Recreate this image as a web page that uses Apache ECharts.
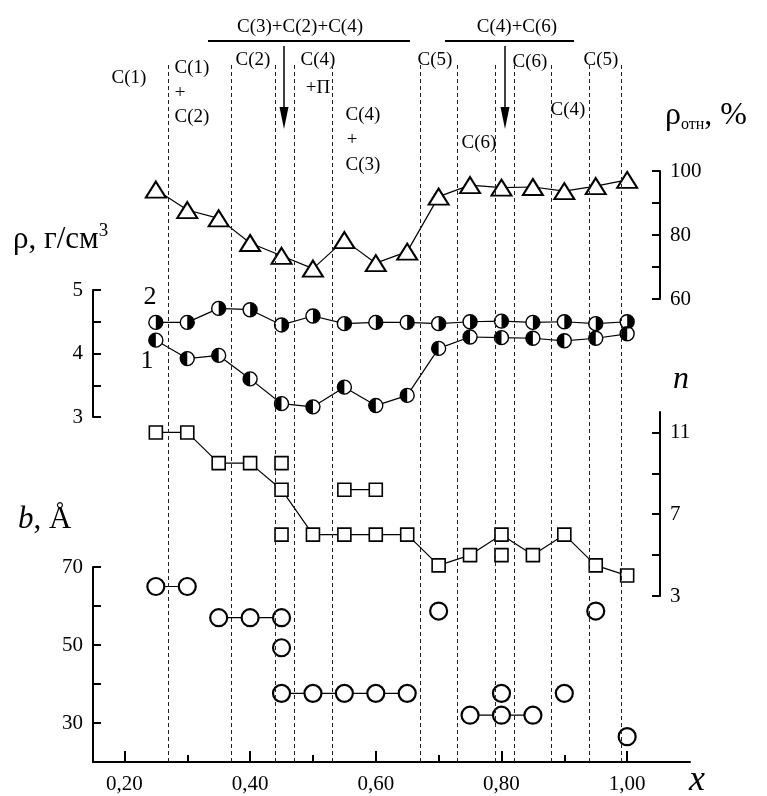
<!DOCTYPE html>
<html>
<head>
<meta charset="utf-8">
<script src="https://cdn.jsdelivr.net/npm/echarts@6/dist/echarts.min.js"></script>
<style>
html, body { margin: 0; padding: 0; background: #fff; }
#chart { width: 767px; height: 796px; }
</style>
</head>
<body>
<div id="chart"></div>
<script>
const serif = '"Liberation Serif", "DejaVu Serif", serif';

// composition x
const xs = [0.25, 0.30, 0.35, 0.40, 0.45, 0.50, 0.55, 0.60, 0.65, 0.70, 0.75, 0.80, 0.85, 0.90, 0.95, 1.00];
// relative density, %
const relDensity = [94.2, 87.8, 85.2, 77.5, 73.5, 69.5, 78.4, 71.2, 74.8, 92.0, 95.6, 94.8, 95.0, 93.7, 95.3, 97.2];
// density, g/cm3 (curve 2 upper, curve 1 lower)
const rho2 = [4.49, 4.49, 4.71, 4.69, 4.45, 4.59, 4.47, 4.49, 4.49, 4.47, 4.50, 4.51, 4.49, 4.50, 4.47, 4.50];
const rho1 = [4.21, 3.92, 3.97, 3.60, 3.21, 3.16, 3.47, 3.18, 3.34, 4.08, 4.26, 4.25, 4.24, 4.20, 4.24, 4.31];
// n
const nMain = [11, 11, 9.5, 9.5, 8.2, 6, 6, 6, 6, 4.5, 5, 6, 5, 6, 4.5, 4];
const nPair = [[0.55, 8.2], [0.60, 8.2]];
const nSingles = [[0.45, 9.5], [0.45, 6], [0.80, 5]];
// b, A
const bSegments = [
  [[0.25, 65], [0.30, 65]],
  [[0.35, 57], [0.40, 57], [0.45, 57]],
  [[0.45, 37.6], [0.50, 37.6], [0.55, 37.6], [0.60, 37.6], [0.65, 37.6]],
  [[0.75, 32], [0.80, 32], [0.85, 32]]
];
const bSingles = [[0.45, 49.3], [0.70, 58.7], [0.80, 37.6], [0.90, 37.6], [0.95, 58.7], [1.00, 26.5]];
// phase boundaries (dashed)
const phaseBounds = [0.27, 0.368, 0.44, 0.469, 0.534, 0.668, 0.734, 0.79, 0.819, 0.878, 0.937, 0.986];
// tick values
const xTicks = [0.2, 0.4, 0.6, 0.8, 1.0];
const xMinorTicks = [0.3, 0.5, 0.7, 0.9];

let chart = echarts.init(document.getElementById("chart"));

function hiddenX(gi) {
  return { type: "value", gridIndex: gi, min: 0.15, max: 1.10, show: false };
}

function yAx(gi, pos, min, max, ticks, labels, offset) {
  return {
    type: "value", gridIndex: gi, position: pos, offset: offset || 0, min: min, max: max,
    axisLine: { show: true, onZero: false, lineStyle: { color: "#000", width: 2 } },
    axisTick: { show: true, inside: true, length: 8, customValues: ticks, lineStyle: { color: "#000", width: 2 } },
    axisLabel: { show: true, customValues: labels, color: "#000", fontSize: 21, fontFamily: serif, margin: 10 },
    splitLine: { show: false }
  };
}

function txt(x, y, text, size, extra) {
  return {
    type: "text", x: x, y: y, silent: true,
    style: Object.assign({
      text: text, fontSize: size, fontFamily: serif, fill: "#000",
      align: "center", verticalAlign: "middle", textAlign: "center", textVerticalAlign: "middle"
    }, extra || {})
  };
}

const hollow = { color: "#fff", borderColor: "#000", borderWidth: 1.6, opacity: 1 };
const ring = { color: "#fff", borderColor: "#000", borderWidth: 2.2, opacity: 1 };
const thinLine = { color: "#000", width: 1.2 };
const pairs = (ys) => xs.map((x, i) => [x, ys[i]]);

let series = [];

// dashed phase boundaries
series.push({
  type: "scatter", xAxisIndex: 0, yAxisIndex: 0, data: [],
  markLine: {
    silent: true, animation: false, symbol: ["none", "none"], label: { show: false },
    lineStyle: { color: "#222", width: 1, type: [4, 3] },
    data: phaseBounds.map(v => ({ xAxis: v }))
  }
});

// relative density (triangles)
series.push({
  type: "line", xAxisIndex: 1, yAxisIndex: 1, data: pairs(relDensity),
  symbol: "triangle", symbolSize: [20, 16], showAllSymbol: true,
  itemStyle: { color: "#fff", borderColor: "#000", borderWidth: 2 },
  lineStyle: thinLine
});

// density curves
[rho2, rho1].forEach(function (arr) {
  series.push({
    type: "line", xAxisIndex: 2, yAxisIndex: 2, data: pairs(arr),
    symbol: "circle", symbolSize: 14,
    itemStyle: { color: "#fff", borderColor: "#000", borderWidth: 1.4 },
    lineStyle: thinLine
  });
});
// half-filled markers
series.push({
  type: "scatter", xAxisIndex: 2, yAxisIndex: 2, data: pairs(rho2), z: 4,
  symbol: "path://M0,0 A10,10 0 0,1 0,20 Z", symbolSize: [7, 14], symbolOffset: [3.5, 0],
  itemStyle: { color: "#000", opacity: 1 }
});
series.push({
  type: "scatter", xAxisIndex: 2, yAxisIndex: 2, data: pairs(rho1), z: 4,
  symbol: "path://M0,0 A10,10 0 0,0 0,20 Z", symbolSize: [7, 14], symbolOffset: [-3.5, 0],
  itemStyle: { color: "#000", opacity: 1 }
});

// n (squares)
series.push({
  type: "line", xAxisIndex: 3, yAxisIndex: 3, data: pairs(nMain),
  symbol: "rect", symbolSize: 13, itemStyle: hollow, lineStyle: thinLine
});
series.push({
  type: "line", xAxisIndex: 3, yAxisIndex: 3, data: nPair,
  symbol: "rect", symbolSize: 13, itemStyle: hollow, lineStyle: thinLine
});
series.push({
  type: "scatter", xAxisIndex: 3, yAxisIndex: 3, data: nSingles,
  symbol: "rect", symbolSize: 13, itemStyle: hollow
});

// b (open circles)
bSegments.forEach(function (seg) {
  series.push({
    type: "line", xAxisIndex: 4, yAxisIndex: 4, data: seg,
    symbol: "circle", symbolSize: 17, itemStyle: ring, lineStyle: thinLine
  });
});
series.push({
  type: "scatter", xAxisIndex: 4, yAxisIndex: 4, data: bSingles,
  symbol: "circle", symbolSize: 17, itemStyle: ring
});

series.forEach(s => { s.emphasis = { disabled: true }; s.animation = false; });

let option = {
  animation: false,
  backgroundColor: "#fff",
  grid: [
    { left: 93, right: 77, top: 63, bottom: 34 },
    { left: 93, right: 77, top: 171, bottom: 497 },
    { left: 93, right: 77, top: 290, bottom: 379 },
    { left: 93, right: 77, top: 412, bottom: 200 },
    { left: 93, right: 77, top: 567, bottom: 34 }
  ],
  xAxis: [
    hiddenX(0), hiddenX(1), hiddenX(2), hiddenX(3),
    {
      type: "value", gridIndex: 4, position: "bottom", min: 0.15, max: 1.10,
      axisLine: { onZero: false, lineStyle: { color: "#000", width: 2 } },
      axisTick: { inside: true, length: 11, customValues: xTicks, lineStyle: { color: "#000", width: 2 } },
      axisLabel: {
        customValues: xTicks, color: "#000", fontSize: 21, fontFamily: serif, margin: 12,
        formatter: v => v.toFixed(2).replace(".", ",")
      },
      splitLine: { show: false }
    },
    {
      type: "value", gridIndex: 4, position: "bottom", min: 0.15, max: 1.10,
      axisLine: { show: false, onZero: false },
      axisTick: { inside: true, length: 7, customValues: xMinorTicks, lineStyle: { color: "#000", width: 2 } },
      axisLabel: { show: false, customValues: xMinorTicks },
      splitLine: { show: false }
    }
  ],
  yAxis: [
    { type: "value", gridIndex: 0, min: 0, max: 1, show: false },
    yAx(1, "right", 60, 100, [60, 70, 80, 90, 100], [60, 80, 100], -30),
    yAx(2, "left", 3, 5, [3, 3.5, 4, 4.5, 5], [3, 4, 5]),
    yAx(3, "right", 3, 12, [3, 5, 7, 9, 11], [3, 7, 11], -30),
    yAx(4, "left", 20, 70, [30, 40, 50, 60, 70], [30, 50, 70])
  ],
  series: series,
  graphic: [
    // axis titles
    txt(13, 240, "{a|ρ, г/см}{s|3}", 31, {
      align: "left", textAlign: "left",
      rich: { a: { fontSize: 31, fontFamily: serif, lineHeight: 36 }, s: { fontSize: 19, fontFamily: serif, verticalAlign: "top", lineHeight: 20 } }
    }),
    txt(18, 520, "{i|b}{a|, Å}", 31, {
      align: "left", textAlign: "left",
      rich: { i: { fontSize: 31, fontFamily: serif, fontStyle: "italic" }, a: { fontSize: 31, fontFamily: serif } }
    }),
    txt(681, 380, "n", 32, { fontStyle: "italic" }),
    txt(665, 116, "{a|ρ}{s|отн}{a|, %}", 32, {
      align: "left", textAlign: "left",
      rich: { a: { fontSize: 32, fontFamily: serif, lineHeight: 34 }, s: { fontSize: 16, fontFamily: serif, verticalAlign: "bottom", lineHeight: 16 } }
    }),
    txt(697, 781, "x", 36, { fontStyle: "italic" }),
    txt(150, 297, "2", 26),
    txt(147, 361, "1", 26),
    // phase annotations
    txt(300, 27, "C(3)+C(2)+C(4)", 19),
    txt(517, 27, "C(4)+C(6)", 19),
    { type: "line", silent: true, shape: { x1: 208, y1: 41, x2: 410, y2: 41 }, style: { stroke: "#000", lineWidth: 2 } },
    { type: "line", silent: true, shape: { x1: 445, y1: 41, x2: 574, y2: 41 }, style: { stroke: "#000", lineWidth: 2 } },
    { type: "line", silent: true, shape: { x1: 284, y1: 46, x2: 284, y2: 112 }, style: { stroke: "#000", lineWidth: 1.5 } },
    { type: "polygon", silent: true, shape: { points: [[279.5, 107], [288.5, 107], [284, 129]] }, style: { fill: "#000" } },
    { type: "line", silent: true, shape: { x1: 505, y1: 46, x2: 505, y2: 112 }, style: { stroke: "#000", lineWidth: 1.5 } },
    { type: "polygon", silent: true, shape: { points: [[500.5, 107], [509.5, 107], [505, 129]] }, style: { fill: "#000" } },
    txt(129, 78, "C(1)", 19),
    txt(192, 68, "C(1)", 19),
    txt(180, 93, "+", 19),
    txt(192, 117, "C(2)", 19),
    txt(253, 60, "C(2)", 19),
    txt(318, 60, "C(4)", 19),
    txt(318, 88, "+П", 19),
    txt(363, 115, "C(4)", 19),
    txt(352, 140, "+", 19),
    txt(363, 165, "C(3)", 19),
    txt(435, 60, "C(5)", 19),
    txt(479, 143, "C(6)", 19),
    txt(530, 62, "C(6)", 19),
    txt(568, 110, "C(4)", 19),
    txt(601, 60, "C(5)", 19)
  ]
};

chart.setOption(option, true);
</script>
</body>
</html>
